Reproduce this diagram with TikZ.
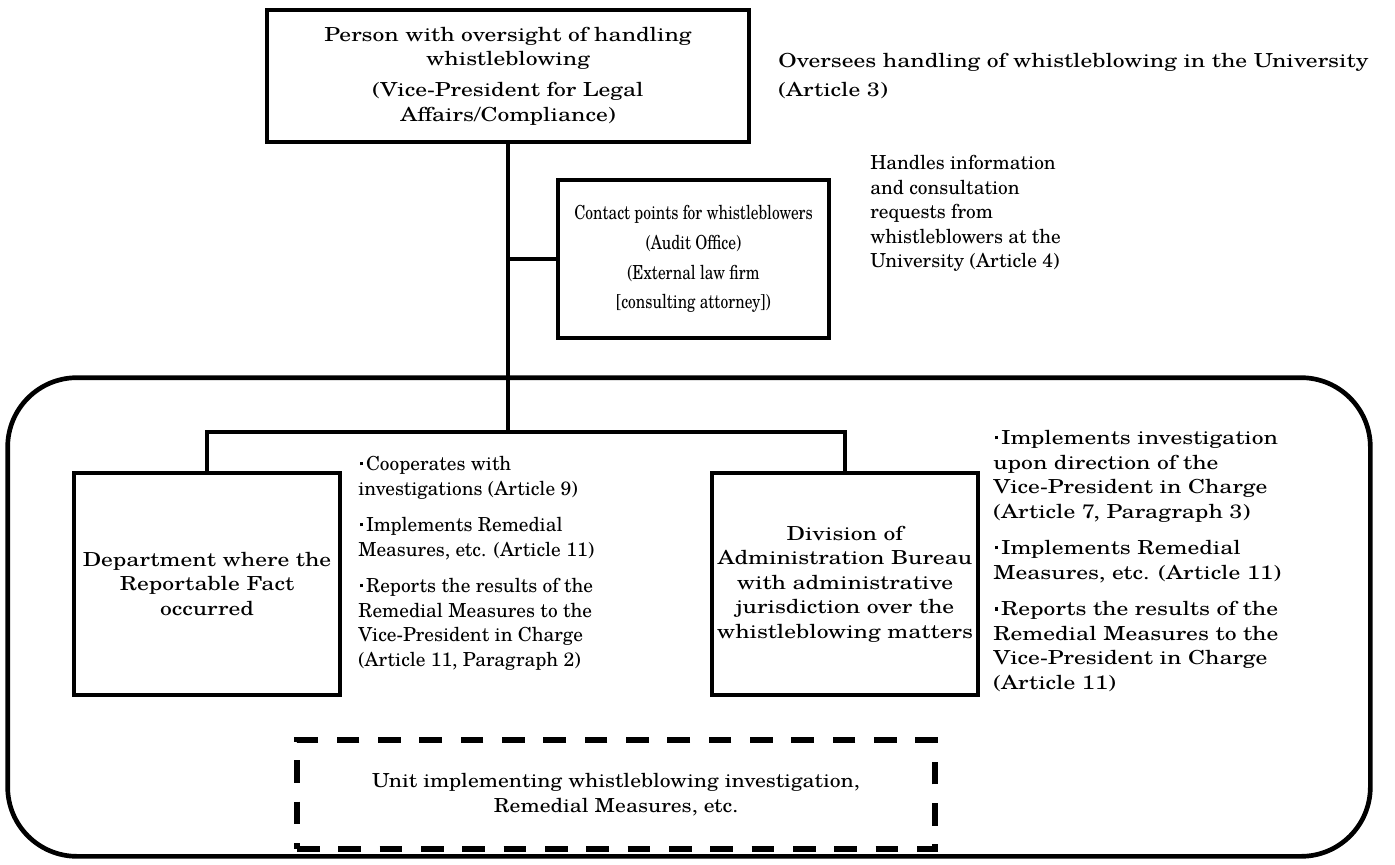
\documentclass[tikz,border=0pt]{standalone}
\usepackage{fontspec}
\setmainfont{texgyreschola}[Extension=.otf, UprightFont=*-regular]
\newfontfamily\widefont{texgyreschola}[Extension=.otf, UprightFont=*-regular, FakeStretch=1.22]
\newfontfamily\midfont{texgyreschola}[Extension=.otf, UprightFont=*-regular, FakeStretch=1.12]
\newfontfamily\slimfont{texgyreschola}[Extension=.otf, UprightFont=*-regular, FakeStretch=0.8]
\usepackage{tikz}
\usetikzlibrary{positioning}

\newcommand{\txtsize}{\fontsize{14.5}{18.4}\selectfont}
\newcommand{\mdot}{\hspace{1pt}\rule[0.27em]{2.3pt}{2.3pt}\hspace{2.5pt}}

\tikzset{
  box/.style={draw, line width=3pt, align=center, inner sep=1pt},
  note/.style={align=left, anchor=north west, inner sep=0pt},
  wide/.style={font=\widefont\txtsize},
  slim/.style={font=\slimfont\txtsize},
  conn/.style={line width=3pt},
  frame/.style={draw, line width=3.5pt, rounded corners=52pt},
  unitbox/.style={draw, line width=4pt, dash pattern=on 17pt off 14pt, align=center}
}

\begin{document}
\begin{tikzpicture}[x=0.75pt, y=-0.75pt, font=\txtsize]
\useasboundingbox (0,0) rectangle (1395,864);

% outer frame round the implementing units
\node[frame, minimum width=1022pt, minimum height=359pt] (frame) at (689,617) {};

% oversight and contact points
\node[box, wide, minimum width=361.5pt, minimum height=99pt] (overseer) at (508,76)
  {Person with oversight of handling\\whistleblowing\\[5pt](Vice-President for Legal\\Affairs/Compliance)};
\node[note, font=\widefont\fontsize{14.5}{22}\selectfont] (overseenote) at (778,53)
  {Oversees handling of whistleblowing in the University\\(Article 3)};

\node[box, slim, minimum width=203pt, minimum height=118.5pt] (contact) at (693.5,259)
  {Contact points for whistleblowers\\[4pt](Audit Office)\\[4pt](External law firm\\[4pt]{[}consulting attorney])};
\node[note] (contactnote) at (870,155)
  {Handles information\\and consultation\\requests from\\whistleblowers at the\\University (Article 4)};

% units
\coordinate (split) at (508,432);
\node[box, wide, minimum width=200pt, minimum height=166.5pt, inner sep=0pt] (dept) at (207,584)
  {Department where the\\Reportable Fact\\occurred};
\node[box, wide, minimum width=199.5pt, minimum height=166.5pt, inner sep=0pt] (division) at (845,584)
  {Division of\\Administration Bureau\\with administrative\\jurisdiction over the\\whistleblowing matters};

\node[note] (deptnote) at (358,456)
  {\mdot Cooperates with\\investigations (Article 9)\\[9pt]%
   \mdot Implements Remedial\\Measures, etc. (Article 11)\\[9pt]%
   \mdot Reports the results of the\\Remedial Measures to the\\Vice-President in Charge\\(Article 11, Paragraph 2)};
\node[note, wide] (divisionnote) at (993,430)
  {\mdot Implements investigation\\upon direction of the\\Vice-President in Charge\\(Article 7, Paragraph 3)\\[9pt]%
   \mdot Implements Remedial\\Measures, etc. (Article 11)\\[9pt]%
   \mdot Reports the results of the\\Remedial Measures to the\\Vice-President in Charge\\(Article 11)};

\node[unitbox, font=\midfont\txtsize, minimum width=478.5pt, minimum height=81.75pt] (unit) at (616,794.5)
  {Unit implementing whistleblowing investigation,\\Remedial Measures, etc.};

% connectors
\draw[conn] (overseer.south) -- (split);
\draw[conn] (contact.west) -- (contact.west -| split);
\draw[conn] (dept.north) |- (split) -| (division.north);
\end{tikzpicture}
\end{document}
